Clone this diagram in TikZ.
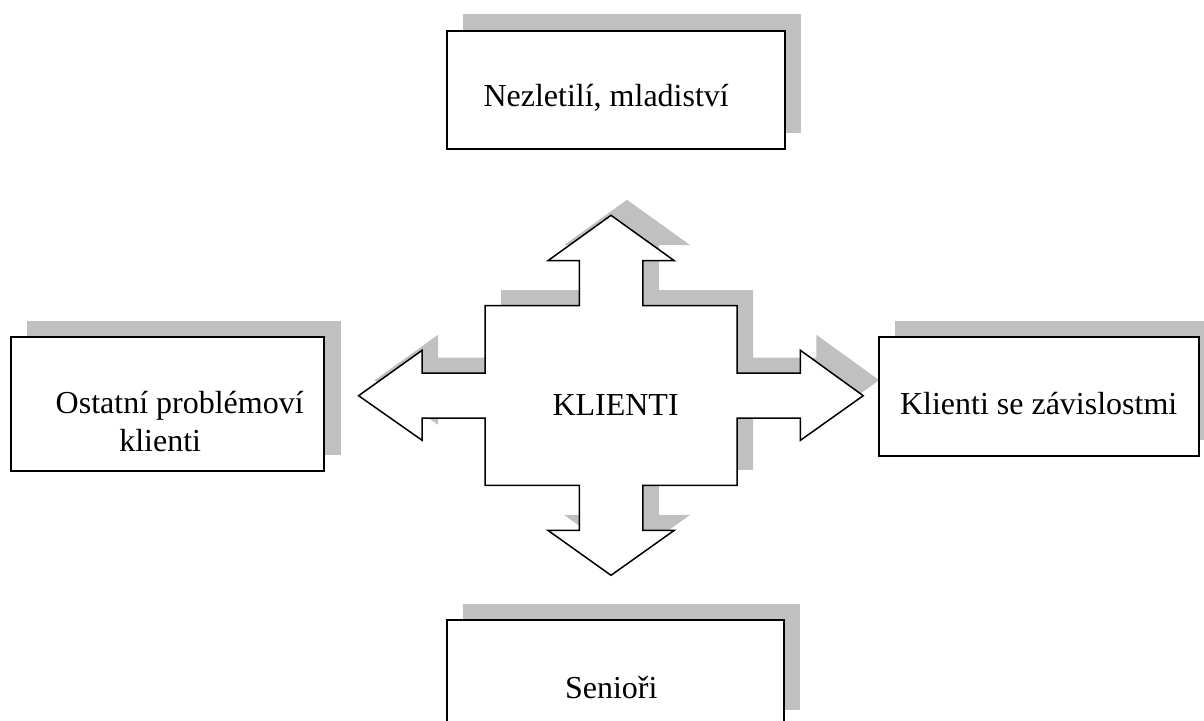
\documentclass[tikz,border=0pt]{standalone}
\usepackage{fontspec}
\setmainfont{Liberation Serif}
\tikzset{
  x=1pt,y=-1pt,
  shadowfill/.style={fill=shadowgrey,draw=none},
  boxframe/.style={draw=black,fill=white,line width=2pt},
  arrowframe/.style={draw=black,fill=white,line width=1.5pt,line join=miter},
  lbl/.style={anchor=base west,inner sep=0pt,outer sep=0pt,font=\fontsize{32}{36}\selectfont}
}
\definecolor{shadowgrey}{HTML}{C0C0C0}
\newcommand{\crossarrow}{%
  (611,215.3) -- (674.3,260.7) -- (642.9,260.7) -- (642.9,305.7) -- (737.1,305.7) -- (737.1,373)
  -- (800.4,373) -- (800.4,350.3) -- (863.2,395.7) -- (800.4,440.3) -- (800.4,418) -- (737.1,418)
  -- (737.1,485.3) -- (642.9,485.3) -- (642.9,530.3) -- (674.3,530.3) -- (611,575.3) -- (547.9,530.3)
  -- (579.3,530.3) -- (579.3,485.3) -- (485,485.3) -- (485,418) -- (422.1,418) -- (422.1,440.3)
  -- (358.6,395.7) -- (422.1,350.3) -- (422.1,373) -- (485,373) -- (485,305.7) -- (579.3,305.7)
  -- (579.3,260.7) -- (547.9,260.7) -- cycle}
\begin{document}
\begin{tikzpicture}
\useasboundingbox (0,0) rectangle (1204,720);
% shadows
\path[shadowfill] (463,14) rectangle (801,132.7);
\path[shadowfill] (27,321) rectangle (341,455);
\path[shadowfill] (895,321) rectangle (1210,440);
\path[shadowfill] (463,604) rectangle (800,710);
\path[shadowfill,shift={(16,-15.5)}] \crossarrow;
% main shapes
\path[arrowframe] \crossarrow;
\draw[boxframe] (446.7,30.7) rectangle (785,149);
\draw[boxframe] (10.7,336.7) rectangle (324.3,471);
\draw[boxframe] (879,336.7) rectangle (1199,456.3);
\draw[boxframe] (446.7,620.3) rectangle (783.7,740);
% labels
\node[lbl] (klienti) at (552.5,415) {KLIENTI};
\node[lbl] (nezletili) at (483.5,106.7) {Nezletilí, mladiství};
\node[lbl] (ostatni) at (55.7,413) {Ostatní problémoví};
\node[lbl] (ostatni2) at (119.3,451) {klienti};
\node[lbl] (zavislost) at (900,414.3) {Klienti se závislostmi};
\node[lbl] (seniori) at (565,698) {Senioři};
\end{tikzpicture}
\end{document}
